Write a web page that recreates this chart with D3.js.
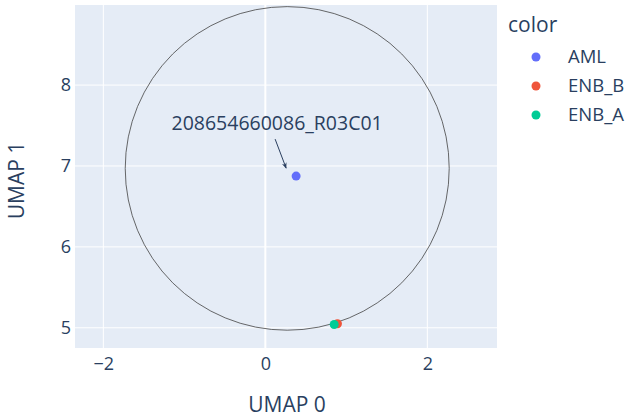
<!DOCTYPE html>
<html>
<head>
<meta charset="utf-8">
<script src="https://cdn.jsdelivr.net/npm/d3@7"></script>
<style>
  body { margin: 0; background: #fff; }
  text { font-family: "Open Sans", verdana, arial, sans-serif; fill: #2a3f5f; }
</style>
</head>
<body>
<div id="chart"></div>
<script>
// data
const groups = ["AML", "ENB_B", "ENB_A"];
const colors = ["#636efa", "#EF553B", "#00cc96"];
const xs = [0.38, 0.89, 0.85];
const ys = [6.875, 5.05, 5.04];
const xTicks = [-2, 0, 2];
const yTicks = [5, 6, 7, 8];
const circleBox = [-1.73, 4.97, 2.27, 8.97]; // x0, y0, x1, y1
const noteLabel = "208654660086_R03C01";

const W = 628, H = 419;
const m = { left: 75, right: 131, top: 5, bottom: 71 };

const svg = d3.select("#chart").append("svg")
    .attr("width", W)
    .attr("height", H);

const x = d3.scaleLinear().domain([-2.35, 2.86]).range([m.left, W - m.right]);
const y = d3.scaleLinear().domain([4.75, 8.99]).range([H - m.bottom, m.top]);

// plot background
svg.append("rect")
    .attr("x", m.left).attr("y", m.top)
    .attr("width", W - m.left - m.right)
    .attr("height", H - m.top - m.bottom)
    .attr("fill", "#e5ecf6");

svg.append("clipPath").attr("id", "clip")
  .append("rect")
    .attr("x", m.left).attr("y", m.top)
    .attr("width", W - m.left - m.right)
    .attr("height", H - m.top - m.bottom);

// grid
const grid = svg.append("g");
grid.selectAll(".gx").data(xTicks).enter().append("line")
    .attr("x1", d => x(d)).attr("x2", d => x(d))
    .attr("y1", m.top).attr("y2", H - m.bottom)
    .attr("stroke", "#fff").attr("stroke-width", d => d === 0 ? 2 : 1);
grid.selectAll(".gy").data(yTicks).enter().append("line")
    .attr("x1", m.left).attr("x2", W - m.right)
    .attr("y1", d => y(d)).attr("y2", d => y(d))
    .attr("stroke", "#fff").attr("stroke-width", 1);

// axes (labels only)
const fmt = d => d < 0 ? "\u2212" + Math.abs(d) : String(d);
const xAxis = svg.append("g")
    .attr("transform", `translate(0,${H - m.bottom})`)
    .call(d3.axisBottom(x).tickValues(xTicks).tickFormat(fmt).tickSize(0).tickPadding(9));
const yAxis = svg.append("g")
    .attr("transform", `translate(${m.left},0)`)
    .call(d3.axisLeft(y).tickValues(yTicks).tickFormat(fmt).tickSize(0).tickPadding(4));
[xAxis, yAxis].forEach(a => {
  a.select(".domain").remove();
  a.selectAll("text")
      .attr("fill", "#2a3f5f")
      .style("font-size", "18px")
      .style("font-family", '"Open Sans", verdana, arial, sans-serif');
});

// axis titles
svg.append("text")
    .attr("x", (m.left + W - m.right) / 2 + 1)
    .attr("y", 412)
    .attr("text-anchor", "middle")
    .style("font-size", "21px")
    .text("UMAP 0");
svg.append("text")
    .attr("transform", `translate(24,${(m.top + H - m.bottom) / 2 + 4}) rotate(-90)`)
    .attr("text-anchor", "middle")
    .style("font-size", "21px")
    .text("UMAP 1");

// circle shape
const plot = svg.append("g").attr("clip-path", "url(#clip)");
plot.append("ellipse")
    .attr("cx", x((circleBox[0] + circleBox[2]) / 2))
    .attr("cy", y((circleBox[1] + circleBox[3]) / 2))
    .attr("rx", Math.abs(x(circleBox[2]) - x(circleBox[0])) / 2)
    .attr("ry", Math.abs(y(circleBox[3]) - y(circleBox[1])) / 2)
    .attr("fill", "none")
    .attr("stroke", "#444")
    .attr("stroke-opacity", 0.8)
    .attr("stroke-width", 1);

// points
const pts = groups.map((g, i) => ({ g, x: xs[i], y: ys[i], c: colors[i] }));
plot.selectAll(".pt").data(pts).enter().append("circle")
    .attr("cx", d => x(d.x)).attr("cy", d => y(d.y))
    .attr("r", 4.5)
    .attr("fill", d => d.c);

// annotation with arrow
svg.append("defs").append("marker")
    .attr("id", "arrow")
    .attr("viewBox", "0 0 10 10")
    .attr("refX", 9).attr("refY", 5)
    .attr("markerWidth", 6).attr("markerHeight", 6)
    .attr("orient", "auto")
  .append("path")
    .attr("d", "M0,1 L10,5 L0,9 L3,5 Z")
    .attr("fill", "#2a3f5f");
const px = x(xs[0]), py = y(ys[0]);
svg.append("line")
    .attr("x1", px - 21).attr("y1", py - 37)
    .attr("x2", px - 10).attr("y2", py - 8)
    .attr("stroke", "#2a3f5f").attr("stroke-width", 1)
    .attr("marker-end", "url(#arrow)");
svg.append("text")
    .attr("x", px - 19).attr("y", py - 46)
    .attr("text-anchor", "middle")
    .style("font-size", "19.5px")
    .text(noteLabel);

// legend
const leg = svg.append("g");
leg.append("text")
    .attr("x", 508).attr("y", 32)
    .style("font-size", "21px")
    .text("color");
const li = leg.selectAll(".li").data(pts).enter().append("g")
    .attr("transform", (d, i) => `translate(536,${57 + i * 29})`);
li.append("circle").attr("r", 4.5).attr("fill", d => d.c);
li.append("text")
    .attr("x", 32).attr("y", 6)
    .style("font-size", "18.5px")
    .text(d => d.g);
</script>
</body>
</html>
